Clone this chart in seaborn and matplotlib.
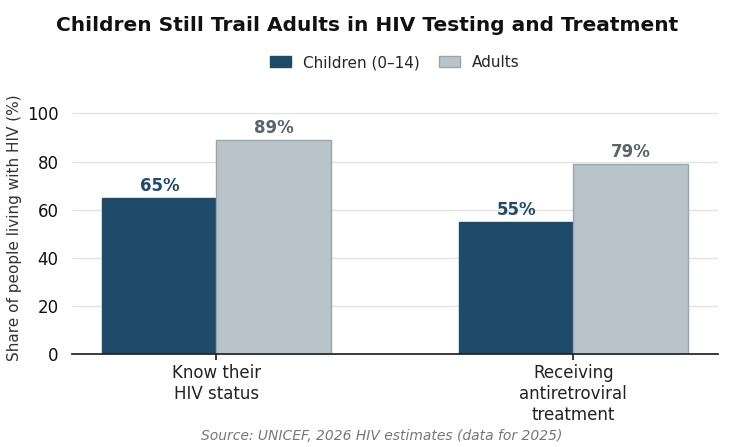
import pandas as pd
import matplotlib.pyplot as plt
import seaborn as sns

categories = ['Know their\nHIV status', 'Receiving\nantiretroviral\ntreatment']
groups = ['Children (0–14)', 'Adults']
children = [65, 55]
adults = [89, 79]

df = pd.DataFrame({
    'category': categories * 2,
    'group': [groups[0]] * 2 + [groups[1]] * 2,
    'value': children + adults,
})

sns.set_theme(style='white')
plt.rcParams['font.family'] = ['DejaVu Sans']

fig = plt.figure(figsize=(7.34, 4.47), dpi=100)
ax = fig.add_axes([0.098, 0.208, 0.88, 0.565])
colors = ['#1d4b69', '#b8c4c9']
sns.barplot(data=df, x='category', y='value', hue='group', palette=colors,
            width=0.64, saturation=1, ax=ax)
for patch, c in zip(ax.patches, ['#1d4b69'] * 2 + ['#9aa6ab'] * 2):
    patch.set_edgecolor(c)
    patch.set_linewidth(1)

label_colors = ['#1d4b69', '#56656b']
for cont, lc in zip(ax.containers, label_colors):
    ax.bar_label(cont, labels=[f'{v:.0f}%' for v in cont.datavalues],
                 padding=2, color=lc, fontsize=12, fontweight='bold')

ax.set_xlim(-0.405, 1.405)
ax.set_ylim(0, 105)
ax.set_yticks(range(0, 101, 20))
ax.yaxis.grid(True, color='#e3e3e3', linewidth=1)
ax.set_axisbelow(True)
for s in ['top', 'right', 'left']:
    ax.spines[s].set_visible(False)
ax.spines['bottom'].set_color('#222222')
ax.tick_params(axis='x', bottom=True, length=4, labelsize=12, colors='#222222')
ax.tick_params(axis='y', labelsize=12, colors='#111111')
ax.set_xlabel('')
ax.set_ylabel('Share of people living with HIV (%)', fontsize=11, color='#333333')

leg = ax.legend(loc='lower center', bbox_to_anchor=(0.5, 1.07), ncol=2, frameon=False,
                fontsize=11, handlelength=1.4, columnspacing=1.2)
for h, c in zip(leg.legend_handles, ['#1d4b69', '#9aa6ab']):
    h.set_edgecolor(c)
fig.suptitle('Children Still Trail Adults in HIV Testing and Treatment',
             fontsize=14.5, fontweight='bold', y=0.965, color='#111111')
fig.text(0.52, 0.015, 'Source: UNICEF, 2026 HIV estimates (data for 2025)',
         ha='center', fontsize=10, style='italic', color='#777777')
fig.savefig('out.png', dpi=100)
